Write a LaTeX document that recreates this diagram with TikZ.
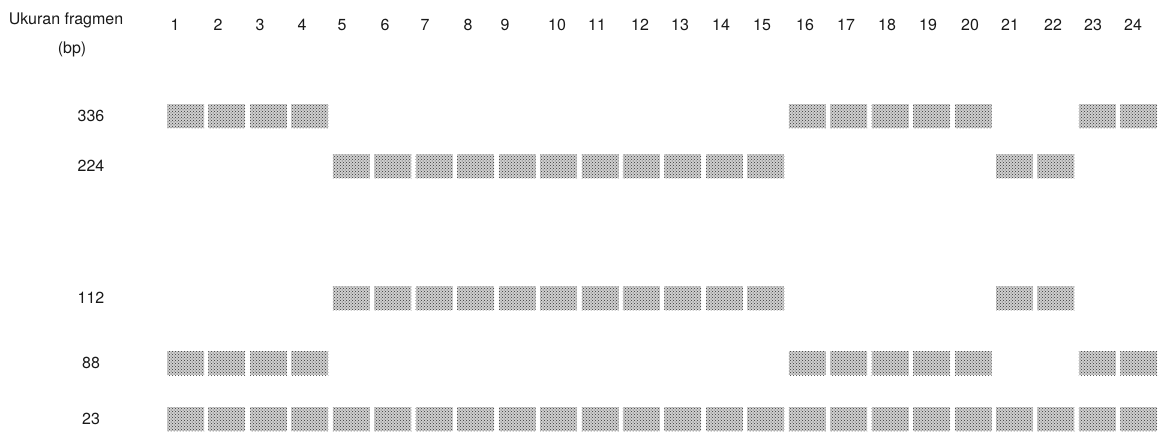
\documentclass[tikz,border=0pt]{standalone}
\usepackage{fontspec}
\setmainfont{TeX Gyre Heros}
\usetikzlibrary{patterns}
\begin{document}
\begin{tikzpicture}[x=1pt,y=-1pt,
  band/.style={fill=gray!38, postaction={pattern=crosshatch dots, pattern color=black!80},
    inner sep=0pt, minimum width=37pt, minimum height=24pt},
  lbl/.style={font=\fontsize{16}{19}\selectfont, inner sep=0pt, text=black!90}]
\useasboundingbox (0,0) rectangle (1167,434);
\node[lbl] (title) at (66,20) {Ukuran fragmen};
\node[lbl] (bp) at (72,49) {(bp)};
\foreach \i/\x in {1/175,2/218,3/260,4/302,5/342,6/385,7/425,8/468,9/505,10/557,11/597,12/640,13/680,14/721,15/762,16/805,17/846,18/887,19/928,20/970,21/1010,22/1053,23/1093,24/1133}
  \node[lbl] (n\i) at (\x,25) {\i};
\foreach \r/\y in {336/116,224/166,112/298,88/363,23/419}
  \node[lbl] (r\r) at (91,\y) {\r};
% bands
\foreach \i in {1,2,3,4,16,17,18,19,20,23,24}
  \node[band] (b336-\i) at ({185.5+(\i-1)*41.45},116) {};
\foreach \i in {5,...,15,21,22}
  \node[band] (b224-\i) at ({185.5+(\i-1)*41.45},166) {};
\foreach \i in {5,...,15,21,22}
  \node[band] (b112-\i) at ({185.5+(\i-1)*41.45},298) {};
\foreach \i in {1,2,3,4,16,17,18,19,20,23,24}
  \node[band] (b88-\i) at ({185.5+(\i-1)*41.45},363) {};
\foreach \i in {1,...,24}
  \node[band] (b23-\i) at ({185.5+(\i-1)*41.45},419) {};
\end{tikzpicture}
\end{document}
